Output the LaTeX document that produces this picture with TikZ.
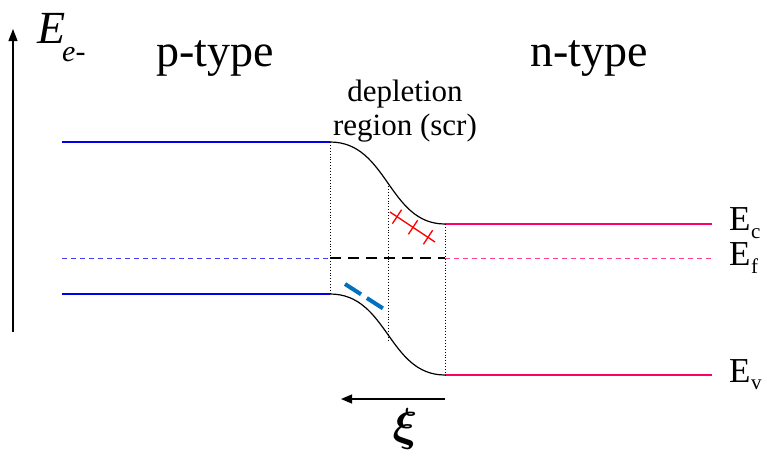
\RequirePackage{fix-cm}
\documentclass[tikz,border=0pt]{standalone}
\usepackage{bm}
\usepackage{fontspec}
\setmainfont{Liberation Serif}
\usetikzlibrary{arrows.meta}
\definecolor{pblue}{RGB}{0,0,235}
\definecolor{npink}{RGB}{255,0,102}
\definecolor{eblue}{RGB}{0,112,192}
\begin{document}
\begin{tikzpicture}[x=1pt,y=-1pt,
  band/.style={line width=1.6pt},
  fermi/.style={line width=1pt,dash pattern=on 5pt off 4pt},
  guide/.style={line width=0.9pt,dotted},
  bentband/.style={line width=1.2pt,black},
  lbl/.style={inner sep=0pt,anchor=base},
  big/.style={lbl,font=\fontsize{46}{50}\selectfont},
  mid/.style={lbl,font=\fontsize{35}{38}\selectfont},
  sub/.style={lbl,font=\fontsize{21}{24}\selectfont}]
\useasboundingbox (0,0) rectangle (767,455);
% axis
\coordinate (ab) at (13,332);
\coordinate (at) at (13,29);
\draw[line width=1.2pt,-{Triangle[length=12pt,width=9pt]}] (ab) -- (at);
\node[big,font=\fontsize{46}{50}\selectfont\itshape,anchor=base west] (E) at (37,43) {E};
\node[lbl,font=\fontsize{30}{32}\selectfont\itshape,anchor=base west] (Es) at (62,61) {e-};
% titles
\node[big] (pt) at (215,66) {p-type};
\node[big] (nt) at (589,66) {n-type};
\node[lbl,font=\fontsize{31}{34}\selectfont] (d1) at (405,101) {depletion};
\node[lbl,font=\fontsize{31}{34}\selectfont] (d2) at (405,135) {region (scr)};
% p side
\coordinate (pc0) at (62,142); \coordinate (pc1) at (330,142);
\coordinate (pf0) at (62,258); \coordinate (pf1) at (330,258);
\coordinate (pv0) at (62,294); \coordinate (pv1) at (330,294);
\draw[band,pblue] (pc0) -- (pc1);
\draw[band,pblue] (pv0) -- (pv1);
\draw[fermi,pblue!75] (pf0) -- (pf1);
% n side
\coordinate (nc0) at (445,224); \coordinate (nc1) at (712,224);
\coordinate (nf0) at (445,258); \coordinate (nf1) at (712,258);
\coordinate (nv0) at (445,375); \coordinate (nv1) at (712,375);
\draw[band,npink] (nc0) -- (nc1);
\draw[band,npink] (nv0) -- (nv1);
\draw[fermi,npink!75] (nf0) -- (nf1);
% bent bands
\draw[bentband] (pc1) .. controls (388,142) and (388,224) .. (nc0);
\draw[bentband] (pv1) .. controls (388,294) and (388,375) .. (nv0);
\draw[black,line width=1.8pt,dash pattern=on 11pt off 7pt] (pf1) -- (nf0);
% guides
\coordinate (g1) at (388,186); \coordinate (g2) at (388,340);
\draw[guide] (pc1) -- (pv1);
\draw[guide] (g1) -- (g2);
\draw[guide] (nc0) -- (nv0);
% labels
\node[mid,anchor=base west] (Ec) at (729,230) {E};
\node[sub,anchor=base west] (Ecs) at (751,238) {c};
\node[mid,anchor=base west] (Ef) at (729,265) {E};
\node[sub,anchor=base west] (Efs) at (751,273) {f};
\node[mid,anchor=base west] (Ev) at (729,382) {E};
\node[sub,anchor=base west] (Evs) at (751,389) {v};
% red crosses
\coordinate (rc0) at (390,212); \coordinate (rc1) at (435,242);
\draw[red,line width=1.3pt] (rc0) -- (rc1);
\foreach \cx/\cy in {397/216.7,413/227.3,428/237.3}{
  \draw[red,line width=1.3pt] (\cx-4.6,\cy+7) -- (\cx+4.6,\cy-7);
}
% blue dashes
\coordinate (bd0) at (345,284); \coordinate (bd1) at (387,311);
\draw[eblue,line width=4pt,dash pattern=on 19pt off 7pt] (bd0) -- (bd1);
% field arrow
\coordinate (fa0) at (445,399); \coordinate (fa1) at (341,399);
\draw[line width=1.2pt,-{Triangle[length=11pt,width=9pt]}] (fa0) -- (fa1);
\node[lbl,font=\fontsize{46}{50}\selectfont] (xi) at (405,440) {$\bm{\xi}$};
\end{tikzpicture}
\end{document}
